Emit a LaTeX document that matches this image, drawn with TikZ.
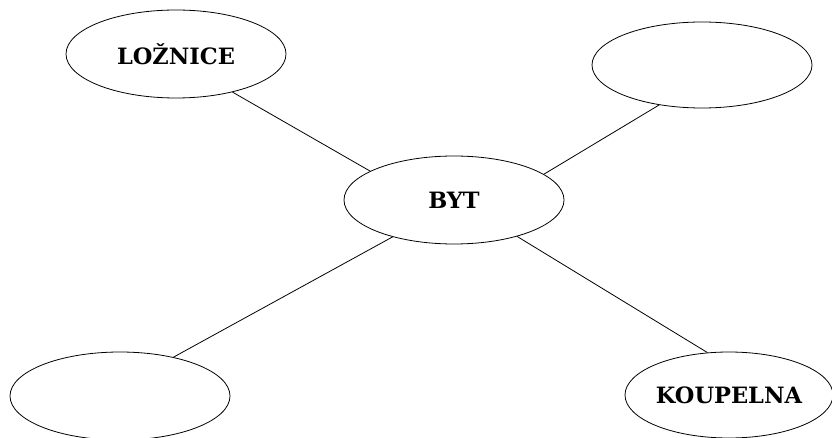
\documentclass[tikz,border=0pt]{standalone}
\usepackage{fontspec}
\newfontfamily\lblfont{DejaVu Serif}
\usetikzlibrary{shapes.geometric}
\tikzset{
  room/.style={ellipse, draw, line width=0.8pt, inner sep=0pt,
    minimum width=220pt, minimum height=88pt,
    font=\lblfont\bfseries\fontsize{22.5}{26}\selectfont},
  link/.style={draw, line width=0.8pt}
}
\begin{document}
\begin{tikzpicture}[x=1pt,y=-1pt]
\useasboundingbox (0,0) rectangle (832,438);
\node[room] (L) at (176,54) {LOŽNICE};
\node[room, minimum height=86pt] (TR) at (702,65) {};
\node[room] (B) at (454,200) {BYT};
\node[room] (BL) at (120,396) {};
\node[room, minimum width=208pt, minimum height=86pt] (K) at (729,395) {KOUPELNA};
\draw[link] (L.-34.6) -- (B.161.6);
\draw[link] (TR.-137) -- (B.16);
\draw[link] (B.-149.5) -- (BL.36.3);
\draw[link] (B.-30.1) -- (K.117);
\end{tikzpicture}
\end{document}
